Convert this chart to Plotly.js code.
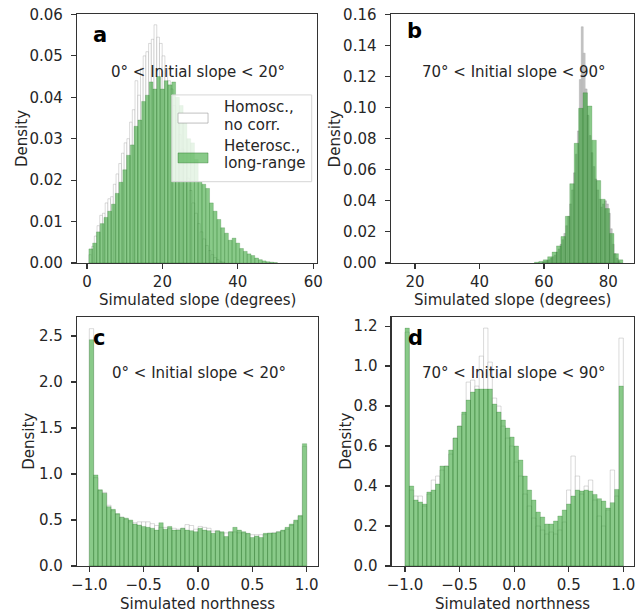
<!DOCTYPE html>
<html>
<head>
<meta charset="utf-8">
<script src="https://cdn.plot.ly/plotly-3.0.1.min.js"></script>
<style>html,body{margin:0;padding:0;background:#fff}#chart{width:644px;height:615px}</style>
</head>
<body>
<div id="chart"></div>
<script>
// ---------- data (density histograms) ----------
// Panel a: 0° < initial slope < 20°, simulated slope (degrees)
const aHomoStart = 0.5, aHomoWidth = 0.72;
const aHomo = [0.002,0.004,0.0065,0.009,0.0115,0.012,0.0145,0.0155,0.016,0.019,
  0.0215,0.024,0.0265,0.029,0.030,0.034,0.037,0.044,0.0405,0.047,
  0.050,0.051,0.053,0.054,0.0575,0.0545,0.053,0.050,0.047,0.044,
  0.042,0.038,0.0345,0.031,0.0275,0.024,0.0205,0.0175,0.0145,0.012,
  0.0095,0.0075,0.0058,0.0042,0.003,0.002,0.0013,0.0008,0.0004,0.0002];
const aHeteroStart = 0.5, aHeteroWidth = 1.0;
const aHetero = [0.0034,0.0048,0.0075,0.0095,0.0110,0.0125,0.0142,0.0168,0.0195,0.0225,
  0.0260,0.0285,0.0330,0.0345,0.0390,0.0405,0.0437,0.0420,0.0450,0.0420,
  0.0440,0.0430,0.0437,0.0400,0.0380,0.0350,0.0300,0.0290,0.0250,0.0195,
  0.0190,0.0180,0.0145,0.0125,0.0105,0.0085,0.0072,0.0055,0.0060,0.0048,
  0.0035,0.0028,0.0022,0.0018,0.0012,0.0008,0.0005,0.0003,0.0002,0.0001];

// Panel b: 70° < initial slope < 90°
const bHomoStart = 59.6, bHomoWidth = 0.6;
const bHomo = [0.0005,0.001,0.0015,0.002,0.003,0.004,0.005,0.007,0.009,0.012,
  0.015,0.019,0.024,0.030,0.038,0.047,0.058,0.070,0.085,0.118,
  0.152,0.135,0.112,0.095,0.082,0.071,0.062,0.054,0.047,0.041,
  0.036,0.038,0.040,0.038,0.032,0.022,0.012,0.006,0.003,0.001];
const bHeteroStart = 57.06, bHeteroWidth = 1.372;
const bHetero = [0.0005,0.001,0.002,0.004,0.007,0.011,0.017,0.030,0.051,0.077,
  0.0995,0.1095,0.101,0.079,0.053,0.041,0.035,0.019,0.006,0.002];

// Panel c: 0° < initial slope < 20°, simulated northness
const nStart = -1.0, nWidth = 0.04;
const cHomo = [2.58,0.96,0.82,0.80,0.66,0.60,0.56,0.53,0.51,0.48,
  0.47,0.48,0.48,0.48,0.46,0.44,0.42,0.42,0.41,0.41,
  0.40,0.41,0.45,0.44,0.40,0.43,0.42,0.41,0.38,0.38,
  0.36,0.36,0.37,0.37,0.36,0.36,0.35,0.34,0.34,0.34,
  0.34,0.35,0.36,0.37,0.38,0.40,0.44,0.48,0.54,1.30];
const cHetero = [2.46,0.99,0.83,0.79,0.645,0.616,0.57,0.53,0.52,0.50,
  0.456,0.445,0.43,0.42,0.41,0.39,0.47,0.40,0.43,0.39,
  0.39,0.41,0.39,0.384,0.373,0.41,0.39,0.384,0.355,0.384,
  0.373,0.32,0.373,0.42,0.39,0.373,0.355,0.31,0.325,0.31,
  0.355,0.36,0.36,0.373,0.39,0.42,0.456,0.50,0.55,1.33];

// Panel d: 70° < initial slope < 90°, simulated northness
const dHomo = [1.17,0.38,0.35,0.35,0.30,0.36,0.43,0.45,0.48,0.50,
  0.56,0.64,0.70,0.76,0.92,0.93,0.90,1.05,1.19,1.02,
  0.84,0.80,0.70,0.64,0.60,0.52,0.45,0.36,0.30,0.24,
  0.20,0.18,0.16,0.17,0.16,0.18,0.22,0.38,0.55,0.45,
  0.36,0.40,0.43,0.33,0.25,0.20,0.28,0.48,0.35,1.14];
const dHetero = [1.19,0.40,0.33,0.32,0.31,0.37,0.38,0.41,0.50,0.50,
  0.58,0.64,0.70,0.77,0.83,0.87,0.885,0.885,0.885,0.885,
  0.81,0.77,0.73,0.69,0.645,0.60,0.53,0.45,0.38,0.33,
  0.27,0.245,0.21,0.21,0.225,0.25,0.28,0.31,0.35,0.38,
  0.375,0.38,0.375,0.358,0.337,0.325,0.29,0.317,0.383,0.90];

const seriesNames = ['Homosc.,<br>no corr.', 'Heterosc.,<br>long-range'];
const panelLabels = ['a','b','c','d'];
const panelTexts = ['0° < Initial slope < 20°','70° < Initial slope < 90°','0° < Initial slope < 20°','70° < Initial slope < 90°'];
const xTitles = ['Simulated slope (degrees)','Simulated slope (degrees)','Simulated northness','Simulated northness'];

// ---------- styles ----------
const FONT = 'DejaVu Sans';
const TXT = '#262626';
const greenFill = 'rgba(44,160,44,0.56)';
const greenLine = 'rgba(20,100,20,0.35)';
const homoFill = '#ffffff';
const homoLine = 'rgba(140,140,140,0.55)';

function centers(start, width, n){ const c=[]; for(let i=0;i<n;i++) c.push(start + width*(i+0.5)); return c; }
function hist(vals, start, width, xa, ya, fill, line, name){
  return {type:'bar', x:centers(start,width,vals.length), y:vals, width:vals.map(()=>width),
    xaxis:xa, yaxis:ya, name:name, marker:{color:fill, line:{color:line, width:0.6}}, hoverinfo:'skip'};
}

const data = [
  hist(aHomo, aHomoStart, aHomoWidth, 'x','y', homoFill, homoLine, seriesNames[0]),
  hist(aHetero, aHeteroStart, aHeteroWidth, 'x','y', greenFill, greenLine, seriesNames[1]),
  hist(bHomo, bHomoStart, bHomoWidth, 'x2','y2', '#c6c6c6', 'rgba(150,150,150,0.6)', seriesNames[0]),
  hist(bHetero, bHeteroStart, bHeteroWidth, 'x2','y2', greenFill, greenLine, seriesNames[1]),
  hist(cHomo, nStart, nWidth, 'x3','y3', homoFill, homoLine, seriesNames[0]),
  hist(cHetero, nStart, nWidth, 'x3','y3', greenFill, greenLine, seriesNames[1]),
  hist(dHomo, nStart, nWidth, 'x4','y4', homoFill, homoLine, seriesNames[0]),
  hist(dHetero, nStart, nWidth, 'x4','y4', greenFill, greenLine, seriesNames[1])
];

const axBase = {showline:true, mirror:true, linecolor:'#333', linewidth:1.2, ticks:'outside', ticklen:5,
  tickwidth:1.2, tickcolor:'#333', showgrid:false, zeroline:false, fixedrange:true,
  tickfont:{family:FONT, size:15, color:TXT}};
function xax(o){ return Object.assign({}, axBase, {ticklabelstandoff:0}, o); }
function yax(o){ return Object.assign({}, axBase, {ticklabelstandoff:5}, o); }

const layout = {
  width:644, height:615, margin:{l:0,r:0,t:0,b:0}, paper_bgcolor:'#fff', plot_bgcolor:'#fff',
  showlegend:false, barmode:'overlay', bargap:0,
  font:{family:FONT, size:15, color:TXT},
  xaxis: xax({domain:[0.1196,0.4922], range:[-2.65,61], anchor:'y', tickvals:[0,20,40,60]}),
  yaxis: yax({domain:[0.5724,0.9772], range:[0,0.0601], anchor:'x', dtick:0.01, tickformat:'.2f'}),
  xaxis2: xax({domain:[0.6067,0.9845], range:[12.45,87.97], anchor:'y2', tickvals:[20,40,60,80]}),
  yaxis2: yax({domain:[0.5724,0.9772], range:[0,0.1602], anchor:'x2', dtick:0.02, tickformat:'.2f'}),
  xaxis3: xax({domain:[0.1196,0.4938], range:[-1.113,1.104], anchor:'y3', dtick:0.5, tickformat:'.1f'}),
  yaxis3: yax({domain:[0.0797,0.4850], range:[0,2.71], anchor:'x3', dtick:0.5, tickformat:'.1f'}),
  xaxis4: xax({domain:[0.6082,0.9845], range:[-1.122,1.098], anchor:'y4', dtick:0.2*2.5, tickformat:'.1f'}),
  yaxis4: yax({domain:[0.0797,0.4850], range:[0,1.247], anchor:'x4', dtick:0.2, tickformat:'.1f'}),
  annotations: [], shapes: []
};

const axIds = [['x','y'],['x2','y2'],['x3','y3'],['x4','y4']];
const letterY = [0.914, 0.93, 0.916, 0.916];
const textY = [0.769, 0.769, 0.774, 0.774];
const ytitleX = [0.0334, 0.520, 0.0458, 0.538];
const xtitleY = [1-300/615, 1-300/615, 1-604/615, 1-604/615];
const yMid = [1-138.5/615, 1-138.5/615, 1-441.3/615, 1-441.3/615];
const xMid = [197/644, 512.3/644, 197.5/644, 512.8/644];
for (let i=0;i<4;i++){
  const [xa, ya] = axIds[i];
  layout.annotations.push({xref:xa+' domain', yref:ya+' domain', x:0.06, y:letterY[i], xanchor:'left', yanchor:'middle',
    text:panelLabels[i], showarrow:false, font:{family:FONT, size:21, color:'#000', weight:'bold'}});
  layout.annotations.push({xref:xa+' domain', yref:ya+' domain', x:0.505, y:textY[i], xanchor:'center', yanchor:'middle',
    text:panelTexts[i], showarrow:false, font:{family:FONT, size:15, color:TXT}});
  layout.annotations.push({xref:'paper', yref:'paper', x:ytitleX[i], y:yMid[i], xanchor:'center', yanchor:'middle',
    text:'Density', textangle:-90, showarrow:false, font:{family:FONT, size:15, color:TXT}});
  layout.annotations.push({xref:'paper', yref:'paper', x:xMid[i], y:xtitleY[i], xanchor:'center', yanchor:'middle',
    text:xTitles[i], showarrow:false, font:{family:FONT, size:15, color:TXT}});
}

// legend (panel a)
layout.shapes.push({type:'rect', xref:'x domain', yref:'y domain', x0:0.395, x1:0.978, y0:0.3265, y1:0.675,
  fillcolor:'rgba(255,255,255,0.8)', line:{color:'#d6d6d6', width:1}, layer:'above'});
layout.shapes.push({type:'rect', xref:'x domain', yref:'y domain', x0:0.421, x1:0.546, y0:0.562, y1:0.602,
  fillcolor:homoFill, line:{color:homoLine, width:1}, layer:'above'});
layout.shapes.push({type:'rect', xref:'x domain', yref:'y domain', x0:0.421, x1:0.546, y0:0.402, y1:0.442,
  fillcolor:greenFill, line:{color:greenLine, width:1}, layer:'above'});
const legLines = [seriesNames[0].split('<br>'), seriesNames[1].split('<br>')];
const legY = [[0.6265,0.5562],[0.470,0.3996]];
for (let s=0;s<2;s++) for (let l=0;l<2;l++){
  layout.annotations.push({xref:'x domain', yref:'y domain', x:0.604, y:legY[s][l], xanchor:'left', yanchor:'middle',
    text:legLines[s][l], showarrow:false, font:{family:FONT, size:15, color:TXT}});
}

Plotly.newPlot('chart', data, layout, {staticPlot:true, displayModeBar:false});
</script>
</body>
</html>
